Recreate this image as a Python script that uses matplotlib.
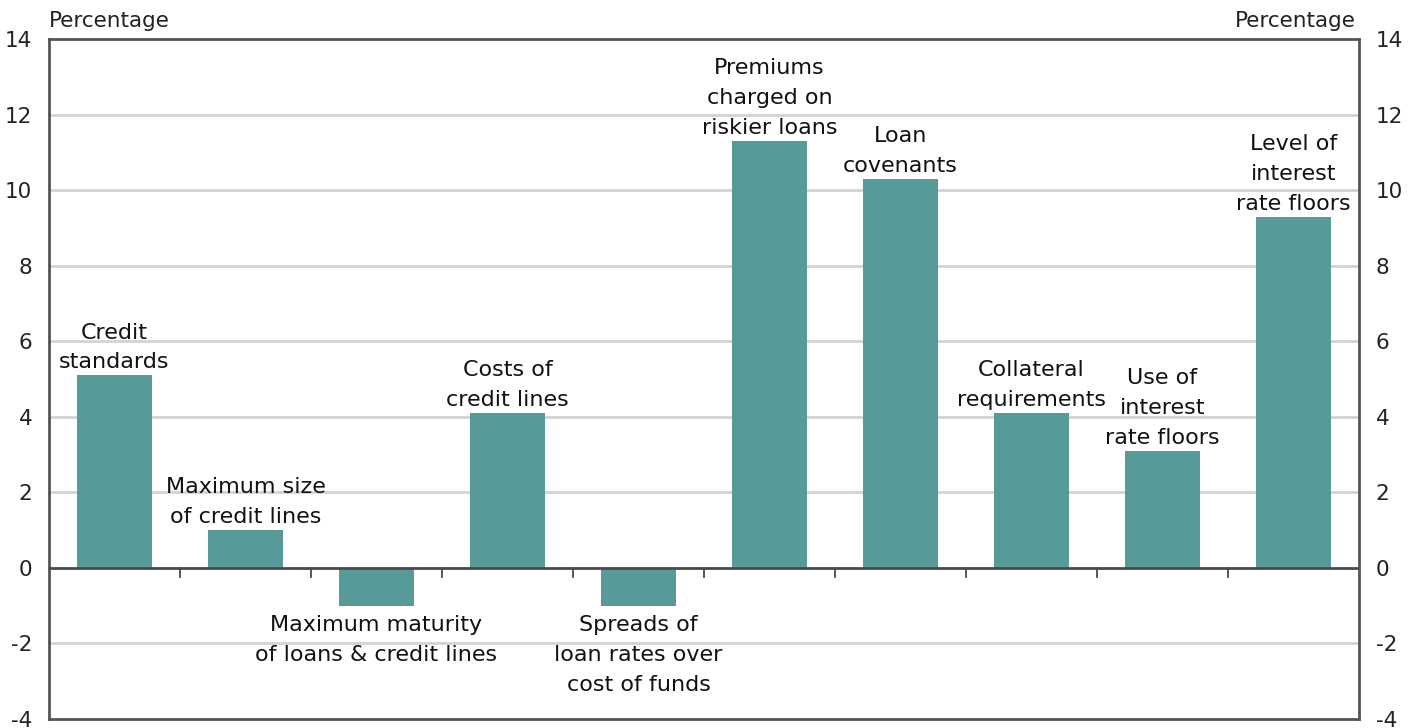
import matplotlib
matplotlib.use("Agg")
import matplotlib.pyplot as plt
import numpy as np

plt.rcParams["axes.unicode_minus"] = False

categories = ["Credit\nstandards", "Maximum size\nof credit lines",
              "Maximum maturity\nof loans & credit lines", "Costs of\ncredit lines",
              "Spreads of\nloan rates over\ncost of funds", "Premiums\ncharged on\nriskier loans",
              "Loan\ncovenants", "Collateral\nrequirements", "Use of\ninterest\nrate floors",
              "Level of\ninterest\nrate floors"]
values = [5.1, 1.0, -1.0, 4.1, -1.0, 11.3, 10.3, 4.1, 3.1, 9.3]
yticks = [-4, -2, 0, 2, 4, 6, 8, 10, 12, 14]

W, H = 1413, 728
fig = plt.figure(figsize=(W / 100, H / 100), dpi=100)
ax = fig.add_axes([49 / W, 1 - 719 / H, (1359 - 49) / W, (719 - 39) / H])

bar_color = "#579a97"
x = np.arange(len(values))
ax.bar(x, values, width=0.58, color=bar_color, zorder=2)
ax.set_xlim(-0.5, len(values) - 0.5)
ax.set_ylim(-4, 14)

for yv in yticks:
    if yv not in (-4, 14, 0):
        ax.axhline(yv, color="#d3d3d3", lw=2, zorder=1)
ax.axhline(0, color="#4a4a4a", lw=2, zorder=3)

# tick marks between categories at zero line
for b in np.arange(0.5, len(values) - 1, 1.0):
    ax.plot([b, b], [0, -0.25], color="#4a4a4a", lw=1.3, zorder=3, clip_on=False)

for s in ax.spines.values():
    s.set_color("#555555")
    s.set_linewidth(2)

ax.set_xticks([])
ax.set_yticks(yticks)
ax.set_yticklabels([str(t) for t in yticks])
ax.tick_params(axis="y", length=0, labelsize=15.5, pad=12, colors="#222222",
               labelleft=True, labelright=True)

fs = 16
for xi, v, lab in zip(x, values, categories):
    if v >= 0:
        ax.annotate(lab, (xi, v), xytext=(0, 2), textcoords="offset points",
                    ha="center", va="bottom", fontsize=fs, color="#111111",
                    linespacing=1.62)
    else:
        ax.annotate(lab, (xi, v), xytext=(0, -7), textcoords="offset points",
                    ha="center", va="top", fontsize=fs, color="#111111",
                    linespacing=1.62)

fig.text(49 / W, 1 - 21 / H, "Percentage", ha="left", va="center", fontsize=15.5, color="#222222")
fig.text(1356 / W, 1 - 21 / H, "Percentage", ha="right", va="center", fontsize=15.5, color="#222222")

fig.savefig("out.png", dpi=100)
